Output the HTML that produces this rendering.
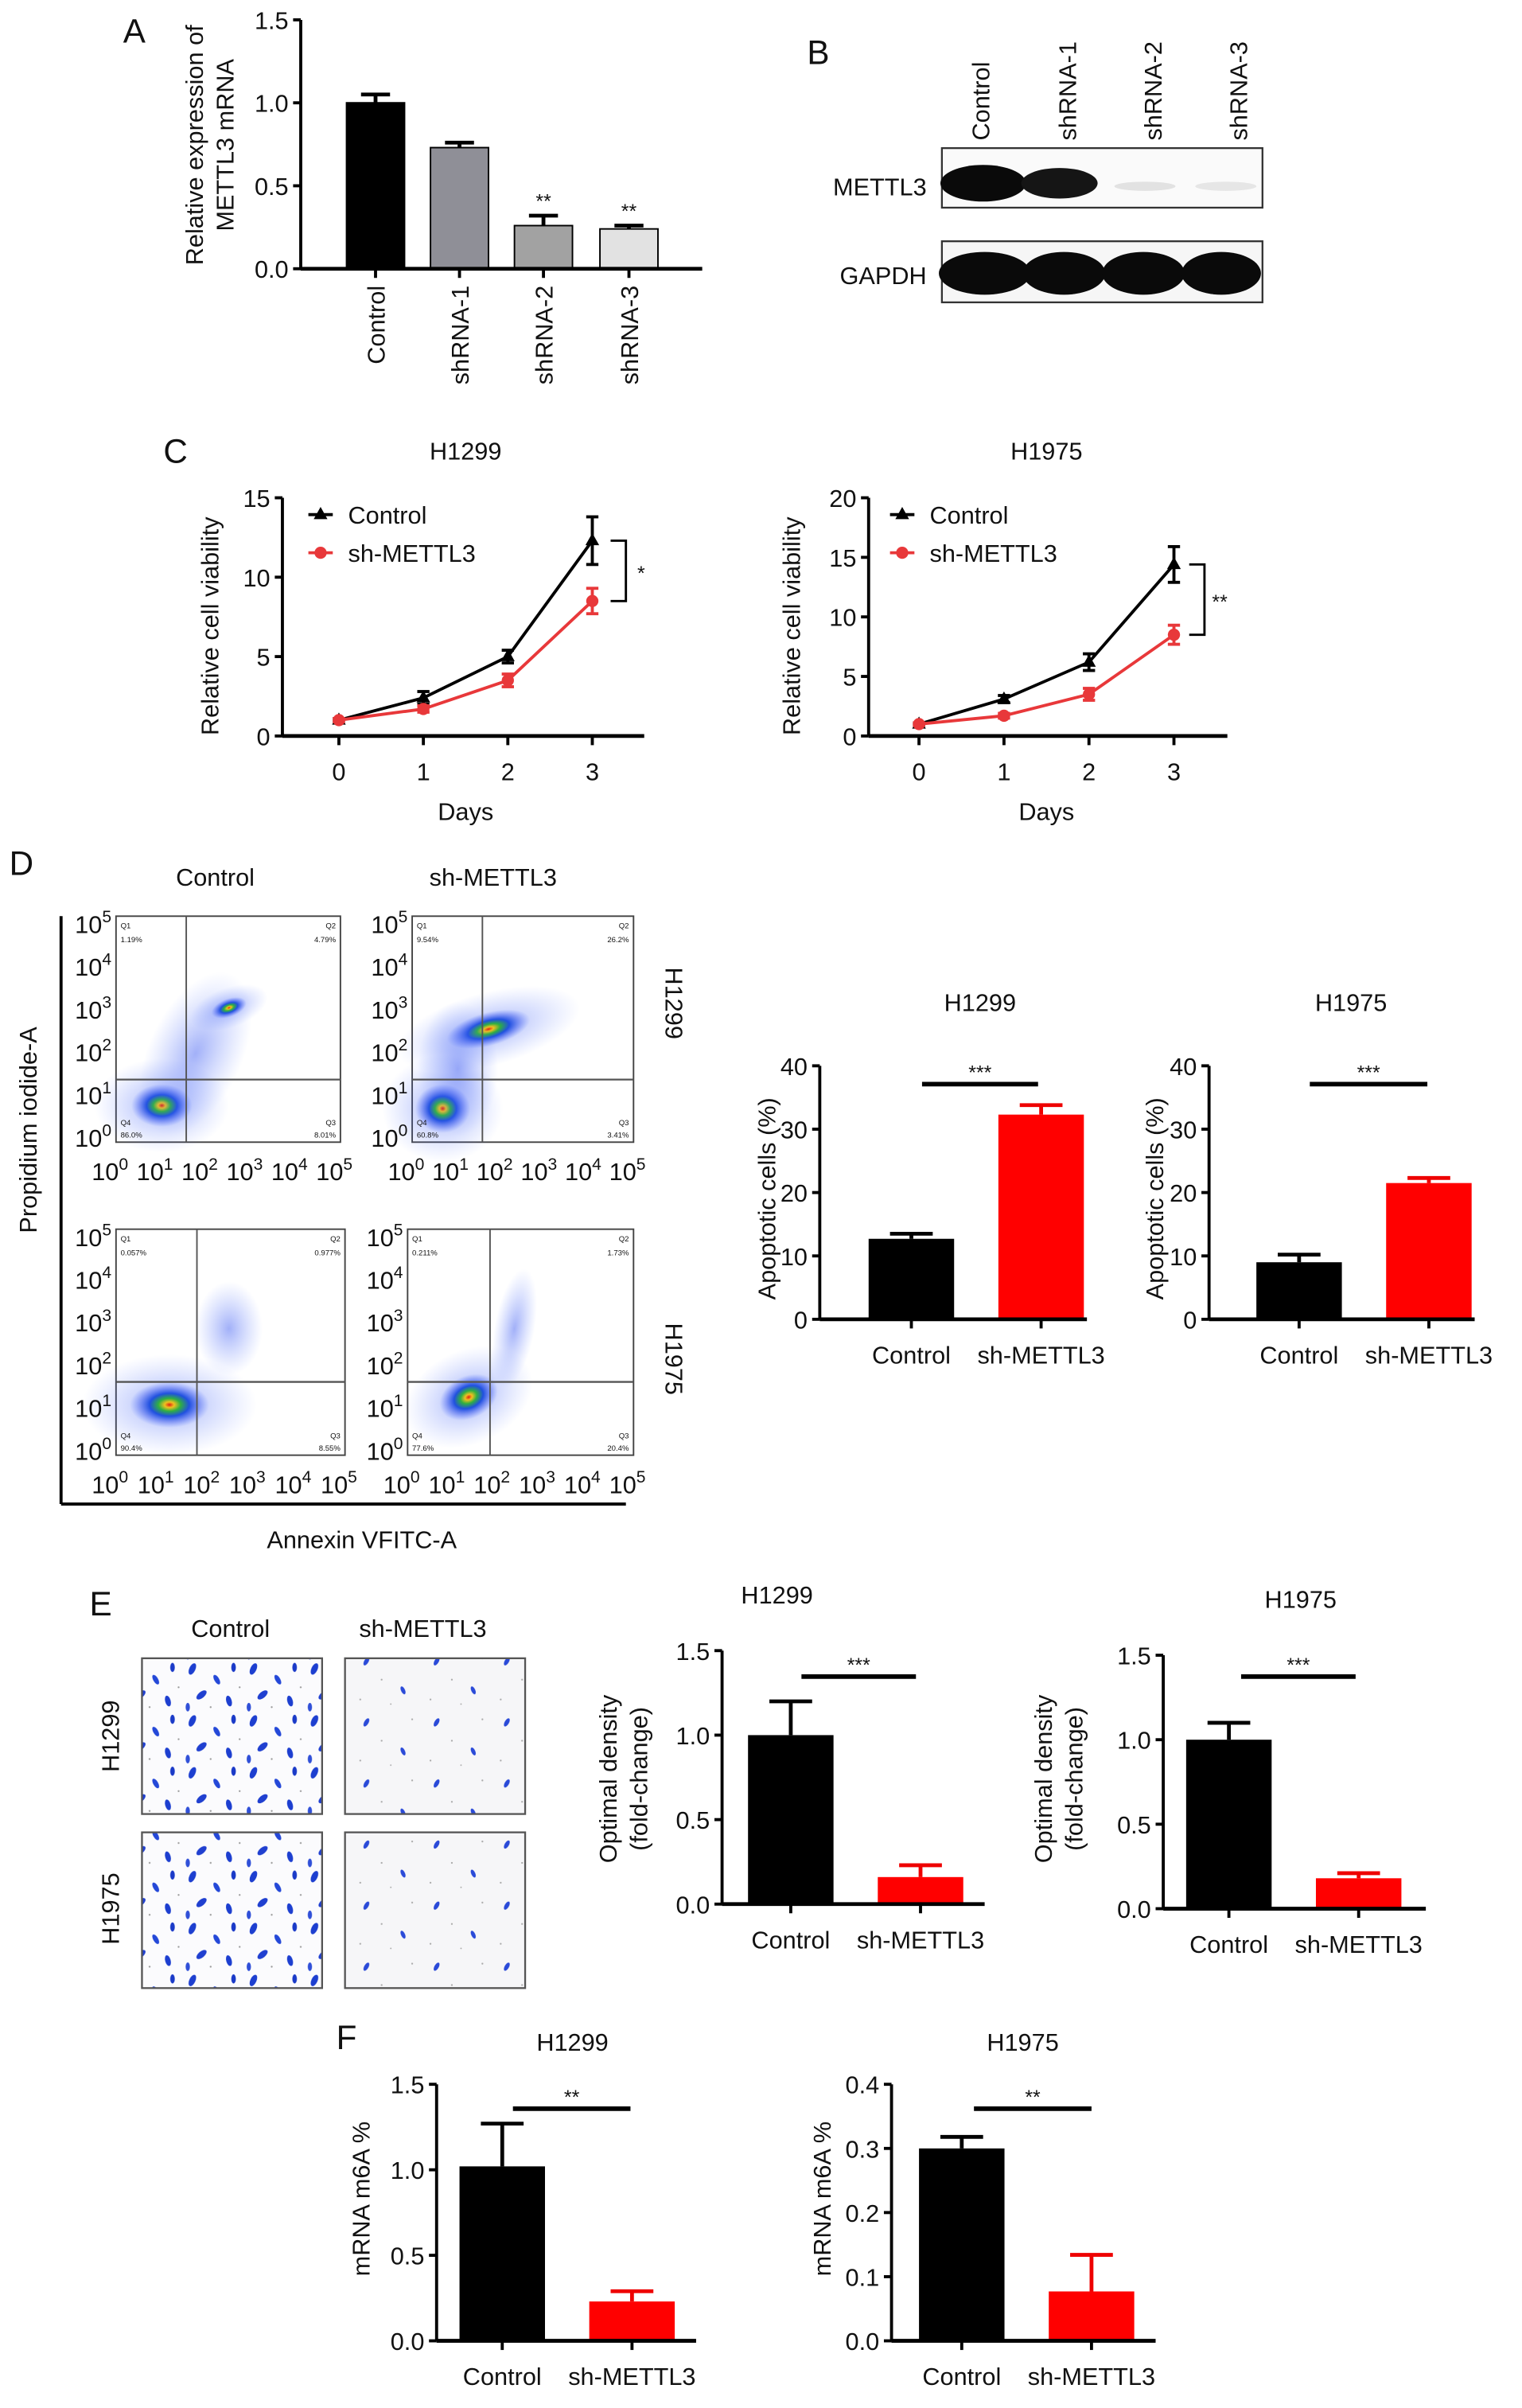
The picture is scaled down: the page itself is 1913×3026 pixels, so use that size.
<!DOCTYPE html>
<html><head><meta charset="utf-8">
<style>
html,body{margin:0;padding:0;background:#fff;}
svg{display:block;}
text{font-family:"Liberation Sans",sans-serif;fill:#111;}
</style></head>
<body>
<svg id="fig" width="1913" height="3026" viewBox="0 0 997 1577" preserveAspectRatio="none" xmlns="http://www.w3.org/2000/svg">
<defs>
<radialGradient id="blob" cx="50%" cy="50%" r="50%">
<stop offset="0" stop-color="#e02010"/>
<stop offset="0.12" stop-color="#f0c020"/>
<stop offset="0.28" stop-color="#30b040"/>
<stop offset="0.5" stop-color="#2050e0"/>
<stop offset="0.78" stop-color="#4a66f0" stop-opacity="0.45"/>
<stop offset="1" stop-color="#6080ff" stop-opacity="0"/>
</radialGradient>
<radialGradient id="haze" cx="50%" cy="50%" r="50%">
<stop offset="0" stop-color="#3050f0" stop-opacity="0.45"/>
<stop offset="1" stop-color="#6080ff" stop-opacity="0"/>
</radialGradient>
<pattern id="cellsDense" width="40" height="34" patternUnits="userSpaceOnUse">
<rect width="40" height="34" fill="#fbfbfd"/>
<ellipse cx="6" cy="5" rx="2" ry="4" fill="#1d3fd0" transform="rotate(25 6 5)"/>
<ellipse cx="22" cy="12" rx="1.6" ry="3.5" fill="#2448d8" transform="rotate(-30 22 12)"/>
<ellipse cx="33" cy="4" rx="1.5" ry="3" fill="#1a3ac8"/>
<ellipse cx="12" cy="22" rx="2" ry="4" fill="#2040d0" transform="rotate(50 12 22)"/>
<ellipse cx="30" cy="26" rx="1.8" ry="3.6" fill="#1d3fd0" transform="rotate(-15 30 26)"/>
<ellipse cx="3" cy="30" rx="1.4" ry="2.8" fill="#3050d8"/>
<circle cx="18" cy="30" r="0.6" fill="#999"/><circle cx="37" cy="17" r="0.6" fill="#999"/>
</pattern>
<pattern id="cellsSparse" width="46" height="40" patternUnits="userSpaceOnUse">
<rect width="46" height="40" fill="#f6f6f8"/>
<ellipse cx="10" cy="8" rx="1.4" ry="3" fill="#2a4ad8" transform="rotate(30 10 8)"/>
<ellipse cx="34" cy="27" rx="1.3" ry="2.8" fill="#2a4ad8" transform="rotate(-25 34 27)"/>
<circle cx="20" cy="20" r="0.6" fill="#aaa"/><circle cx="40" cy="6" r="0.6" fill="#aaa"/>
<circle cx="6" cy="33" r="0.6" fill="#aaa"/><circle cx="26" cy="36" r="0.5" fill="#aaa"/>
</pattern>
</defs>
<g id="root"></g>
</svg>
<script>
// ---------- data ----------
// Panel A
const aCategories = ["Control","shRNA-1","shRNA-2","shRNA-3"];
const aValues = [1.0, 0.73, 0.26, 0.24];
const aErrors = [0.05, 0.03, 0.06, 0.02];
const aTicks = [0, 0.5, 1.0, 1.5];
const aSig = ["", "", "**", "**"];
// Panel C
const cDays = [0,1,2,3];
const cH1299Control = [1.0, 2.4, 5.0, 12.3];
const cH1299ControlErr = [0.1, 0.4, 0.4, 1.5];
const cH1299Sh = [1.0, 1.7, 3.5, 8.5];
const cH1299ShErr = [0.1, 0.2, 0.4, 0.8];
const cH1299Ticks = [0,5,10,15];
const cH1975Control = [1.0, 3.1, 6.2, 14.4];
const cH1975ControlErr = [0.1, 0.3, 0.7, 1.5];
const cH1975Sh = [1.0, 1.7, 3.5, 8.5];
const cH1975ShErr = [0.1, 0.2, 0.5, 0.8];
const cH1975Ticks = [0,5,10,15,20];
// Panel D
const dGroups = ["Control","sh-METTL3"];
const dH1299Values = [12.7, 32.3];
const dH1299Errors = [0.8, 1.5];
const dH1975Values = [9.0, 21.5];
const dH1975Errors = [1.2, 0.8];
const dTicks = [0,10,20,30,40];
// Panel E
const eH1299Values = [1.0, 0.16];
const eH1299Errors = [0.2, 0.07];
const eH1975Values = [1.0, 0.18];
const eH1975Errors = [0.1, 0.03];
const eTicks = [0, 0.5, 1.0, 1.5];
// Panel F
const fH1299Values = [1.02, 0.23];
const fH1299Errors = [0.25, 0.06];
const fH1299Ticks = [0, 0.5, 1.0, 1.5];
const fH1975Values = [0.30, 0.077];
const fH1975Errors = [0.018, 0.057];
const fH1975Ticks = [0, 0.1, 0.2, 0.3, 0.4];
// Flow quadrant percentages [Q1,Q2,Q3,Q4]
const flowH1299Control = ["1.19%","4.79%","8.01%","86.0%"];
const flowH1299Sh = ["9.54%","26.2%","3.41%","60.8%"];
const flowH1975Control = ["0.057%","0.977%","8.55%","90.4%"];
const flowH1975Sh = ["0.211%","1.73%","20.4%","77.6%"];

// ---------- helpers ----------
const NS = "http://www.w3.org/2000/svg";
const root = document.getElementById("root");
function mk(tag, attrs, parent, name, inter) {
  const el = document.createElementNS(NS, tag);
  for (const k in attrs) el.setAttribute(k, attrs[k]);
  
  
  (parent || root).appendChild(el);
  return el;
}
function txt(x, y, s, size, anchor, parent, name, extra) {
  const a = Object.assign({x:x, y:y, "font-size":size, "text-anchor":anchor||"middle"}, extra||{});
  const t = mk("text", a, parent, name);
  t.textContent = s;
  return t;
}
function line(x1,y1,x2,y2,w,color,parent,name){
  return mk("line",{x1:x1,y1:y1,x2:x2,y2:y2,stroke:color||"#000","stroke-width":w||2},parent,name);
}
function scale(d0,d1,r0,r1){ return v => r0 + (v-d0)/(d1-d0)*(r1-r0); }
function fmt(v, dec){ return dec ? v.toFixed(dec) : String(v); }

function yAxis(g, x, y, ticks, dec, xEnd, yBase) {
  line(x, y(ticks[ticks.length-1]), x, yBase, 2, "#000", g, "y-axis-line");
  line(x, yBase, xEnd, yBase, 2.5, "#000", g, "x-axis-line");
  ticks.forEach(t => {
    line(x-5, y(t), x, y(t), 2, "#000", g, "y-tick");
    txt(x-8, y(t)+6, fmt(t,dec), 16, "end", g, "y-tick-label");
  });
}

function barChart(o) {
  const g = mk("g", {}, root, o.name);
  const y = scale(o.ticks[0], o.ticks[o.ticks.length-1], o.y0, o.y1);
  o.values.forEach((v,i) => {
    const cx = o.centers[i];
    const top = y(v);
    mk("rect",{x:cx-o.bw/2, y:top, width:o.bw, height:o.y0-top, fill:o.colors[i], stroke:o.stroke||"none","stroke-width":1}, g, "bar-"+o.labels[i].toLowerCase());
    const et = y(v+o.errors[i]);
    const ec = o.colors[i]==="#ff0000"?"#e00":"#000";
    line(cx, top, cx, et, 2.5, ec, g, "error-bar");
    line(cx-o.bw/4, et, cx+o.bw/4, et, 2.5, ec, g, "error-cap");
    line(cx, o.y0, cx, o.y0+6, 2, "#000", g, "x-tick");
    if (!o.rotLabels) txt(cx, o.y0+29, o.labels[i], 16, "middle", g, "x-tick-label");
    else txt(0,0,o.labels[i],16,"end",g,"x-tick-label",{transform:`translate(${cx+6},${o.y0+11}) rotate(-90)`});
    if (o.sigs && o.sigs[i]) txt(cx, et-5, o.sigs[i], 13, "middle", g, "significance-mark");
  });
  yAxis(g, o.axisX, y, o.ticks, o.dec, o.xEnd, o.y0);
  if (o.sigLine) {
    line(o.sigLine[0], o.sigLine[2], o.sigLine[1], o.sigLine[2], 3, "#000", g, "significance-line");
    txt((o.sigLine[0]+o.sigLine[1])/2, o.sigLine[2]-3, o.sigLine[3], 13, "middle", g, "significance-mark");
  }
  if (o.title) txt(o.title[0], o.title[1], o.title[2], 16, "middle", g, "chart-title");
  o.ytitle.forEach((s,k) => txt(0,0,s,16,"middle",g,"y-axis-title",{transform:`translate(${o.ytx[k]},${o.yty}) rotate(-90)`}));
  return g;
}

// ---------- Panel A ----------
txt(88, 28, "A", 22, "middle", root, "panel-label-a");
barChart({name:"panel-a-chart", values:aValues, errors:aErrors, labels:aCategories, sigs:aSig,
  centers:[246,301,356,412], bw:38, colors:["#000","#8f8f97","#a2a2a2","#e2e2e2"], stroke:"#000",
  ticks:aTicks, dec:1, y0:176, y1:13, axisX:197, xEnd:460, rotLabels:true,
  ytitle:["Relative expression of","METTL3 mRNA"], ytx:[133,153], yty:95});

// ---------- Panel B (western blot) ----------
const gb = mk("g",{},root,"panel-b-western-blot");
txt(536, 42, "B", 22, "middle", gb, "panel-label-b");
["Control","shRNA-1","shRNA-2","shRNA-3"].forEach((s,i)=>{
  txt(0,0,s,16,"start",gb,"lane-label",{transform:`translate(${[648,705,761,817][i]},92) rotate(-90)`});
});
mk("rect",{x:617,y:97,width:210,height:39,fill:"#fafafa",stroke:"#333","stroke-width":1.2},gb,"metttl3-blot-box");
mk("rect",{x:617,y:158,width:210,height:40,fill:"#f6f6f6",stroke:"#333","stroke-width":1.2},gb,"gapdh-blot-box");
txt(607, 128, "METTL3", 16, "end", gb, "metttl3-label");
txt(607, 186, "GAPDH", 16, "end", gb, "gapdh-label");
mk("ellipse",{cx:644,cy:120,rx:28,ry:12,fill:"#0a0a0a"},gb,"band-metttl3-control");
mk("ellipse",{cx:694,cy:120,rx:25,ry:10,fill:"#151515"},gb,"band-metttl3-shrna1");
mk("ellipse",{cx:750,cy:122,rx:20,ry:3,fill:"#e2e2e2"},gb,"band-metttl3-shrna2");
mk("ellipse",{cx:803,cy:122,rx:20,ry:3,fill:"#e6e6e6"},gb,"band-metttl3-shrna3");
[[645,30],[697,27],[749,27],[800,26]].forEach((b,i)=>{
  mk("ellipse",{cx:b[0],cy:179,rx:b[1],ry:14,fill:"#0a0a0a"},gb,"band-gapdh");
});

// ---------- Panel C ----------
txt(115, 303, "C", 22, "middle", root, "panel-label-c");
function lineChart(o){
  const g = mk("g",{},root,o.name);
  const x = scale(0,3,o.x0,o.x3);
  const y = scale(o.ticks[0], o.ticks[o.ticks.length-1], o.yb, o.yt);
  yAxis(g, o.axisX, y, o.ticks, 0, o.xEnd, o.yb);
  cDays.forEach(d=>{
    line(x(d), o.yb, x(d), o.yb+6, 2, "#000", g, "x-tick");
    txt(x(d), o.yb+29, String(d), 16, "middle", g, "x-tick-label");
  });
  txt((o.x0+o.x3)/2, o.yb+55, "Days", 16, "middle", g, "x-axis-title");
  txt((o.x0+o.x3)/2, 301, o.title, 16, "middle", g, "chart-title");
  txt(0,0,"Relative cell viability",16,"middle",g,"y-axis-title",{transform:`translate(${o.ytx},410) rotate(-90)`});
  [[o.ctrl,o.ctrlErr,"#000","control"],[o.sh,o.shErr,"#e8383a","sh-metttl3"]].forEach(s=>{
    const pts = cDays.map(d=>x(d)+","+y(s[0][d])).join(" ");
    mk("polyline",{points:pts,fill:"none",stroke:s[2],"stroke-width":2},g,"series-line-"+s[3]);
    cDays.forEach(d=>{
      const cx=x(d), cy=y(s[0][d]), t=y(s[0][d]+s[1][d]), b=y(s[0][d]-s[1][d]);
      line(cx,t,cx,b,2,s[2],g,"error-bar");
      line(cx-4,t,cx+4,t,2,s[2],g,"error-cap");
      line(cx-4,b,cx+4,b,2,s[2],g,"error-cap");
      if(s[3]==="control") mk("polygon",{points:`${cx},${cy-5} ${cx-4.5},${cy+3} ${cx+4.5},${cy+3}`,fill:"#000"},g,"point-control");
      else mk("circle",{cx:cx,cy:cy,r:4,fill:s[2]},g,"point-sh-metttl3");
    });
  });
  const lx=o.legX;
  line(lx,337,lx+16,337,2,"#000",g,"legend-line-control");
  mk("polygon",{points:`${lx+8},${332} ${lx+3.5},${340} ${lx+12.5},${340}`,fill:"#000"},g,"legend-marker-control");
  txt(lx+26,343,"Control",16,"start",g,"legend-label-control");
  line(lx,362,lx+16,362,2,"#e8383a",g,"legend-line-sh");
  mk("circle",{cx:lx+8,cy:362,r:4,fill:"#e8383a"},g,"legend-marker-sh");
  txt(lx+26,368,"sh-METTL3",16,"start",g,"legend-label-sh");
  const b=o.bracket;
  mk("polyline",{points:`${b[0]},${y(b[1])} ${b[0]+10},${y(b[1])} ${b[0]+10},${y(b[2])} ${b[0]},${y(b[2])}`,fill:"none",stroke:"#000","stroke-width":1.5},g,"significance-bracket");
  txt(b[0]+20,(y(b[1])+y(b[2]))/2+6,b[3],13,"middle",g,"significance-mark");
}
lineChart({name:"panel-c-h1299-chart",title:"H1299",ctrl:cH1299Control,ctrlErr:cH1299ControlErr,sh:cH1299Sh,shErr:cH1299ShErr,
  ticks:cH1299Ticks,x0:222,x3:388,yb:482,yt:326,axisX:185,xEnd:422,ytx:143,legX:202,bracket:[400,12.3,8.5,"*"]});
lineChart({name:"panel-c-h1975-chart",title:"H1975",ctrl:cH1975Control,ctrlErr:cH1975ControlErr,sh:cH1975Sh,shErr:cH1975ShErr,
  ticks:cH1975Ticks,x0:602,x3:769,yb:482,yt:326,axisX:569,xEnd:804,ytx:524,legX:583,bracket:[779,14.4,8.5,"**"]});

// ---------- Panel D flow ----------
const gd = mk("g",{},root,"panel-d-flow-cytometry");
txt(14, 573, "D", 22, "middle", gd, "panel-label-d");
txt(141, 580, "Control", 16, "middle", gd, "column-title-control");
txt(323, 580, "sh-METTL3", 16, "middle", gd, "column-title-sh");
line(40,600,40,985,2,"#000",gd,"outer-y-axis");
line(40,985,410,985,2,"#000",gd,"outer-x-axis");
txt(0,0,"Propidium iodide-A",16,"middle",gd,"y-axis-title",{transform:"translate(24,740) rotate(-90)"});
txt(237,1014,"Annexin VFITC-A",16,"middle",gd,"x-axis-title");
txt(0,0,"H1299",16,"middle",gd,"row-label-h1299",{transform:"translate(436,657) rotate(90)"});
txt(0,0,"H1975",16,"middle",gd,"row-label-h1975",{transform:"translate(436,890) rotate(90)"});
function flowPlot(bx,by,bw,bh,gx,gy,q,blobs,name){
  const g = mk("g",{},gd,name);
  mk("rect",{x:bx,y:by,width:bw,height:bh,fill:"#fff",stroke:"#444","stroke-width":1},g,"flow-plot-box");
  blobs.forEach(b=>{
    mk("ellipse",{cx:b[0],cy:b[1],rx:b[2]*2.2,ry:b[3]*2.2,fill:"url(#haze)",transform:`rotate(${b[4]} ${b[0]} ${b[1]})`},g,"flow-haze");
    if (!b[5]) mk("ellipse",{cx:b[0],cy:b[1],rx:b[2],ry:b[3],fill:"url(#blob)",transform:`rotate(${b[4]} ${b[0]} ${b[1]})`},g,"flow-cluster");
  });
  line(gx,by,gx,by+bh,1,"#555",g,"gate-vertical");
  line(bx,gy,bx+bw,gy,1.2,"#555",g,"gate-horizontal");
  txt(bx+3,by+8,"Q1",5,"start",g,"quadrant-label");txt(bx+3,by+17,q[0],5,"start",g,"quadrant-value");
  txt(bx+bw-3,by+8,"Q2",5,"end",g,"quadrant-label");txt(bx+bw-3,by+17,q[1],5,"end",g,"quadrant-value");
  txt(bx+bw-3,by+bh-11,"Q3",5,"end",g,"quadrant-label");txt(bx+bw-3,by+bh-3,q[2],5,"end",g,"quadrant-value");
  txt(bx+3,by+bh-11,"Q4",5,"start",g,"quadrant-label");txt(bx+3,by+bh-3,q[3],5,"start",g,"quadrant-value");
  const step = (bh-8)/5;
  for(let k=0;k<6;k++){
    const yy = by+bh-2-k*step;
    const t = txt(bx-3,yy+5,"10",16,"end",g,"y-tick-label");
    const sp = document.createElementNS(NS,"tspan"); sp.setAttribute("dy","-7"); sp.setAttribute("font-size","11"); sp.textContent=String(k); t.appendChild(sp);
  }
  const xs = bw/5;
  for(let k=0;k<6;k++){
    const xx = bx+k*xs;
    const t = txt(xx-4,by+bh+25,"10",16,"middle",g,"x-tick-label");
    const sp = document.createElementNS(NS,"tspan"); sp.setAttribute("dy","-7"); sp.setAttribute("font-size","11"); sp.textContent=String(k); t.appendChild(sp);
  }
}
flowPlot(76,600,147,148,122,707,flowH1299Control,[[106,724,20,14,0],[128,690,14,26,25,1],[150,660,12,6,-20]],"flow-h1299-control");
flowPlot(270,600,145,148,316,707,flowH1299Sh,[[320,674,28,11,-15],[290,726,18,16,0],[300,700,12,20,0,1]],"flow-h1299-sh");
flowPlot(76,805,150,148,129,905,flowH1975Control,[[111,920,26,15,0],[150,870,10,14,0,1]],"flow-h1975-control");
flowPlot(267,805,148,148,321,905,flowH1975Sh,[[307,915,20,14,-25],[337,870,6,18,10,1]],"flow-h1975-sh");

// Panel D bar charts
barChart({name:"panel-d-h1299-apoptosis",values:dH1299Values,errors:dH1299Errors,labels:dGroups,
  centers:[597,682],bw:56,colors:["#000","#ff0000"],ticks:dTicks,dec:0,y0:864,y1:698,axisX:537,xEnd:712,
  sigLine:[604,680,710,"***"],title:[642,662,"H1299"],ytitle:["Apoptotic cells (%)"],ytx:[508],yty:785});
barChart({name:"panel-d-h1975-apoptosis",values:dH1975Values,errors:dH1975Errors,labels:dGroups,
  centers:[851,936],bw:56,colors:["#000","#ff0000"],ticks:dTicks,dec:0,y0:864,y1:698,axisX:792,xEnd:966,
  sigLine:[858,935,710,"***"],title:[885,662,"H1975"],ytitle:["Apoptotic cells (%)"],ytx:[762],yty:785});

// ---------- Panel E ----------
const ge = mk("g",{},root,"panel-e-transwell");
txt(66, 1058, "E", 22, "middle", ge, "panel-label-e");
txt(151, 1072, "Control", 16, "middle", ge, "column-title-control");
txt(277, 1072, "sh-METTL3", 16, "middle", ge, "column-title-sh");
txt(0,0,"H1299",16,"middle",ge,"row-label-h1299",{transform:"translate(78,1137) rotate(-90)"});
txt(0,0,"H1975",16,"middle",ge,"row-label-h1975",{transform:"translate(78,1250) rotate(-90)"});
mk("rect",{x:93,y:1086,width:118,height:102,fill:"url(#cellsDense)",stroke:"#555","stroke-width":1.2},ge,"image-h1299-control");
mk("rect",{x:226,y:1086,width:118,height:102,fill:"url(#cellsSparse)",stroke:"#555","stroke-width":1.2},ge,"image-h1299-sh");
mk("rect",{x:93,y:1200,width:118,height:102,fill:"url(#cellsDense)",stroke:"#555","stroke-width":1.2},ge,"image-h1975-control");
mk("rect",{x:226,y:1200,width:118,height:102,fill:"url(#cellsSparse)",stroke:"#555","stroke-width":1.2},ge,"image-h1975-sh");

barChart({name:"panel-e-h1299-density",values:eH1299Values,errors:eH1299Errors,labels:dGroups,
  centers:[518,603],bw:56,colors:["#000","#ff0000"],ticks:eTicks,dec:1,y0:1247,y1:1081,axisX:473,xEnd:645,
  sigLine:[525,600,1098,"***"],title:[509,1050,"H1299"],ytitle:["Optimal density","(fold-change)"],ytx:[404,424],yty:1165});
barChart({name:"panel-e-h1975-density",values:eH1975Values,errors:eH1975Errors,labels:dGroups,
  centers:[805,890],bw:56,colors:["#000","#ff0000"],ticks:eTicks,dec:1,y0:1250,y1:1084,axisX:762,xEnd:934,
  sigLine:[813,888,1098,"***"],title:[852,1053,"H1975"],ytitle:["Optimal density","(fold-change)"],ytx:[689,709],yty:1165});

// ---------- Panel F ----------
txt(227, 1342, "F", 22, "middle", root, "panel-label-f");
barChart({name:"panel-f-h1299-m6a",values:fH1299Values,errors:fH1299Errors,labels:dGroups,
  centers:[329,414],bw:56,colors:["#000","#ff0000"],ticks:fH1299Ticks,dec:1,y0:1533,y1:1365,axisX:286,xEnd:456,
  sigLine:[336,413,1381,"**"],title:[375,1343,"H1299"],ytitle:["mRNA m6A %"],ytx:[242],yty:1440});
barChart({name:"panel-f-h1975-m6a",values:fH1975Values,errors:fH1975Errors,labels:dGroups,
  centers:[630,715],bw:56,colors:["#000","#ff0000"],ticks:fH1975Ticks,dec:1,y0:1533,y1:1365,axisX:584,xEnd:757,
  sigLine:[638,715,1381,"**"],title:[670,1343,"H1975"],ytitle:["mRNA m6A %"],ytx:[544],yty:1440});
</script>
</body></html>
